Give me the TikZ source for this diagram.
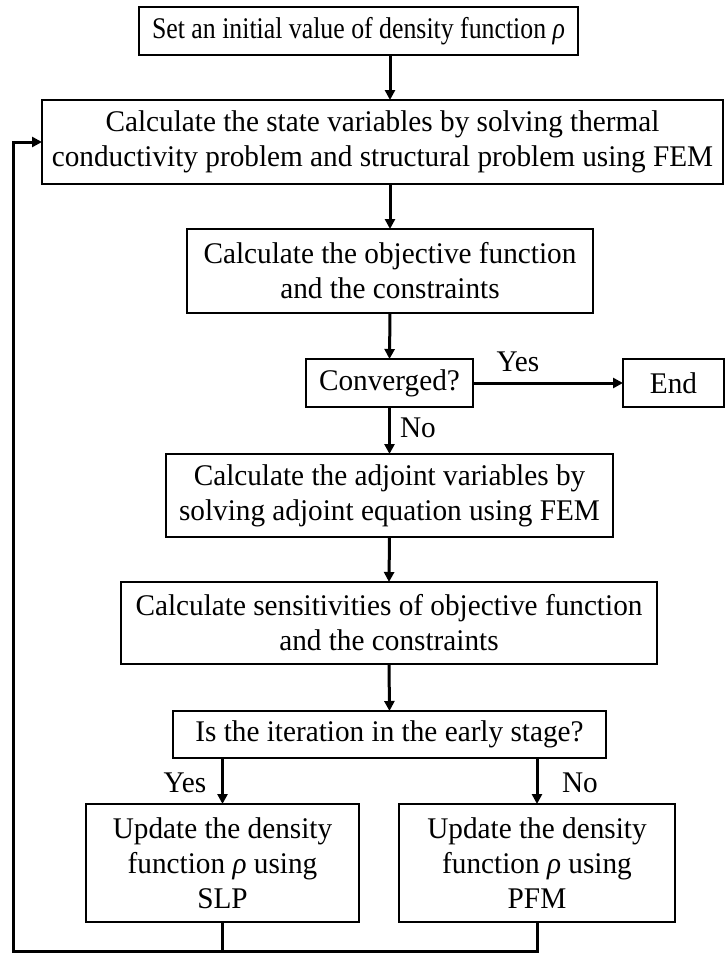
\documentclass[tikz,border=0pt]{standalone}
\usepackage{fontspec}
\setmainfont[FakeStretch=0.975]{Liberation Serif}
\newfontfamily\narrowserif[FakeStretch=0.86]{Liberation Serif}
\usetikzlibrary{arrows.meta}
\begin{document}
\begin{tikzpicture}[x=1pt,y=-1pt,
  box/.style={draw, line width=2pt, align=center, inner sep=0pt, outer sep=0pt,
    font=\fontsize{30}{35}\selectfont},
  lbl/.style={font=\fontsize{30}{35}\selectfont, inner sep=0pt},
  arr/.style={line width=3pt, -{Triangle[length=10pt,width=10pt]}},
  ln/.style={line width=3pt}]
\useasboundingbox (0,0) rectangle (726,954);
\node[box, minimum width=439pt, minimum height=48pt, font=\fontsize{30}{35}\narrowserif] (B1) at (358.5,31) {Set an initial value of density function {\itshape ρ}};
\node[box, minimum width=681pt, minimum height=84pt] (B2) at (382.5,142) {Calculate the state variables by solving thermal\\conductivity problem and structural problem using FEM};
\node[box, minimum width=406pt, minimum height=84pt] (B3) at (390,271) {Calculate the objective function\\and the constraints};
\node[box, minimum width=167pt, minimum height=48pt] (C) at (389.5,383) {Converged?};
\node[box, minimum width=101pt, minimum height=48pt] (E) at (673.5,383) {End};
\node[box, minimum width=447pt, minimum height=83pt] (B5) at (389.5,495.5) {Calculate the adjoint variables by\\solving adjoint equation using FEM};
\node[box, minimum width=536pt, minimum height=82pt] (B6) at (389,623) {Calculate sensitivities of objective function\\and the constraints};
\node[box, minimum width=433pt, minimum height=47pt] (B7) at (389.5,734.5) {Is the iteration in the early stage?};
\node[box, minimum width=273pt, minimum height=118pt] (B8) at (222.5,863) {Update the density\\function {\itshape ρ} using\\SLP};
\node[box, minimum width=276pt, minimum height=118pt] (B9) at (537,863) {Update the density\\function {\itshape ρ} using\\PFM};
\coordinate (LL) at (13,951);
\draw[arr] (B1.south -| B3.north) -- (B2.north -| B3.north);
\draw[arr] (B2.south -| B3.north) -- (B3.north);
\draw[arr] (B3.south) -- (C.north);
\draw[arr] (C.east) -- (E.west);
\draw[arr] (C.south) -- (B5.north);
\draw[arr] (B5.south) -- (B6.north);
\draw[arr] (B6.south) -- (B7.north);
\draw[arr] (B7.south -| B8.north) -- (B8.north);
\draw[arr] (B7.south -| B9.north) -- (B9.north);
\draw[ln] (B9.south) |- (LL);
\draw[arr] (B8.south) |- (LL) |- (B2.west);
\node[lbl] (Y1) at (518,362) {Yes};
\node[lbl] (N1) at (418,428) {No};
\node[lbl] (Y2) at (185,783) {Yes};
\node[lbl] (N2) at (580,783) {No};
\end{tikzpicture}
\end{document}
